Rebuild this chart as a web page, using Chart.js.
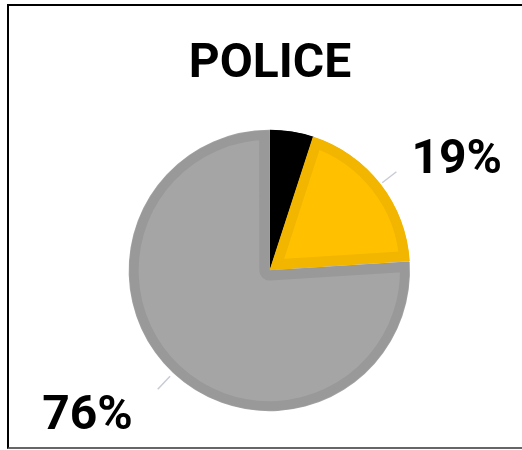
<!DOCTYPE html>
<html>
<head>
<meta charset="utf-8">
<script src="https://cdn.jsdelivr.net/npm/chart.js@4"></script>
<style>
  html, body { margin: 0; padding: 0; background: #fff; }
  #wrap { position: relative; width: 522px; height: 450px; overflow: hidden; }
  #frame { position: absolute; left: 7px; top: 4px; width: 600px; height: 441px;
           border-top: 2px solid #000; border-left: 2px solid #000; border-bottom: 2px solid #666;
           pointer-events: none; }
  canvas { position: absolute; left: 0; top: 0; }
</style>
</head>
<body>
<div id="wrap">
  <canvas id="c" width="522" height="450"></canvas>
  <div id="frame"></div>
</div>
<script>
const chartTitle = 'POLICE';
const categories = ['Other', 'Yes', 'No'];
const values = [5, 19, 76];
const valueLabels = ['', '19%', '76%'];

const fillColors = ['#000000', '#FFC000', '#A5A5A5'];
const edgeColors = ['#000000', '#F2B500', '#999999'];
const sliceOffsets = [0, 0, 4];
// label placement relative to the end of each leader line: [dx, dy, align]
const labelPlacement = [null, [15, 1, 'left'], [-25, 40, 'right']];

const labelPlugin = {
  id: 'sliceLabels',
  afterDatasetsDraw(chart) {
    const ctx = chart.ctx;
    const meta = chart.getDatasetMeta(0);
    meta.data.forEach((arc, i) => {
      if (!valueLabels[i]) return;
      const p = arc.getProps(['x', 'y', 'startAngle', 'endAngle', 'outerRadius'], true);
      const mid = (p.startAngle + p.endAngle) / 2;
      const cx = p.x + Math.cos(mid) * sliceOffsets[i];
      const cy = p.y + Math.sin(mid) * sliceOffsets[i];
      const r0 = p.outerRadius + 2, r1 = p.outerRadius + 20;
      const x0 = cx + Math.cos(mid) * r0, y0 = cy + Math.sin(mid) * r0;
      const x1 = cx + Math.cos(mid) * r1, y1 = cy + Math.sin(mid) * r1;
      ctx.save();
      ctx.strokeStyle = '#C9CBD6';
      ctx.lineWidth = 1.5;
      ctx.beginPath(); ctx.moveTo(x0, y0); ctx.lineTo(x1, y1); ctx.stroke();
      const [dx, dy, align] = labelPlacement[i];
      ctx.fillStyle = '#000';
      ctx.font = 'bold 48px Roboto';
      ctx.textAlign = align;
      ctx.textBaseline = 'alphabetic';
      ctx.fillText(valueLabels[i], x1 + dx, y1 + dy);
      ctx.restore();
    });
  }
};

new Chart(document.getElementById('c'), {
  type: 'pie',
  data: {
    labels: categories,
    datasets: [{
      data: values,
      backgroundColor: fillColors,
      borderColor: edgeColors,
      borderWidth: 10,
      borderAlign: 'inner',
      offset: sliceOffsets
    }]
  },
  options: {
    responsive: false,
    animation: false,
    radius: 140,
    layout: { padding: { left: 18, right: 0, top: 0, bottom: 10 } },
    plugins: {
      legend: { display: false },
      tooltip: { enabled: false },
      title: {
        display: true,
        text: chartTitle,
        color: '#000',
        font: { family: 'Roboto', size: 48, weight: 'bold', lineHeight: 1.2 },
        padding: { top: 36, bottom: 6 }
      }
    }
  },
  plugins: [labelPlugin]
});
</script>
</body>
</html>
